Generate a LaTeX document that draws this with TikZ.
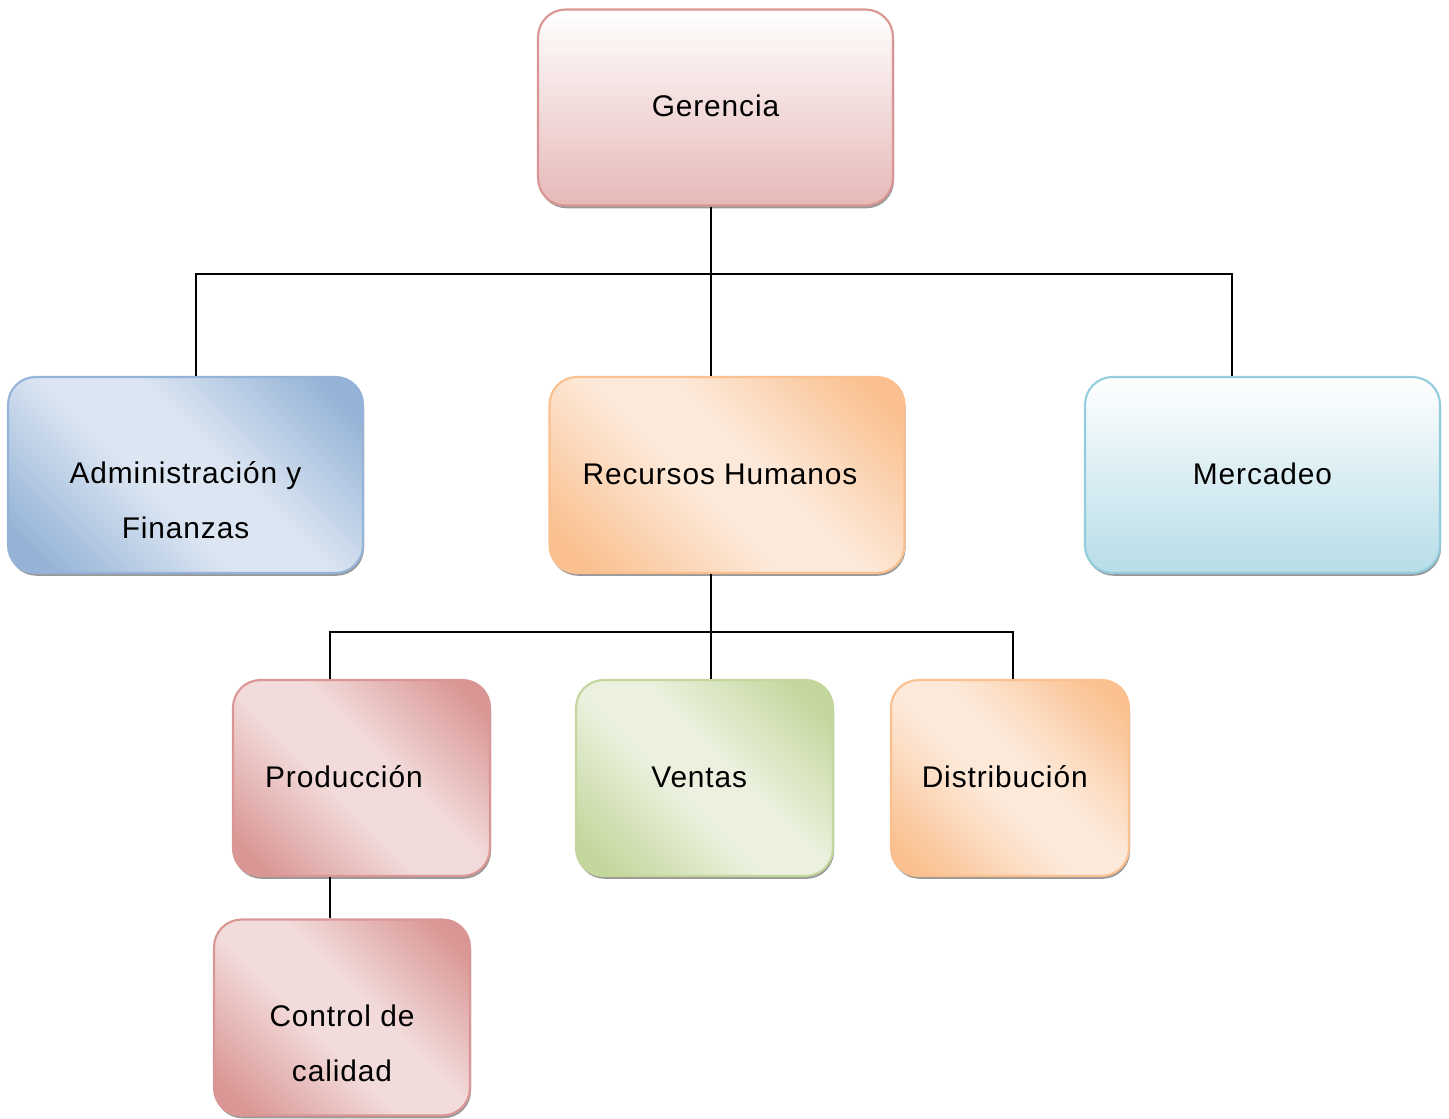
\documentclass[tikz,border=0pt]{standalone}
\usepackage{fontspec}
\setmainfont{Liberation Sans}[LetterSpace=3]
\usepackage{tikz}
\usetikzlibrary{shadows}
\definecolor{rosa}{HTML}{D99694}
\definecolor{rosaclaro}{HTML}{F2DCDB}
\definecolor{rosafondo}{HTML}{E6B9B8}
\definecolor{azul}{HTML}{95B3D7}
\definecolor{azulclaro}{HTML}{DCE6F2}
\definecolor{naranja}{HTML}{FAC08F}
\definecolor{naranjaclaro}{HTML}{FDE9D9}
\definecolor{celeste}{HTML}{93CDDD}
\definecolor{celestefondo}{HTML}{B7DDE8}
\definecolor{verde}{HTML}{C3D69B}
\definecolor{verdeclaro}{HTML}{EBF1DE}
\colorlet{oscuro}{azul}
\colorlet{claro}{azulclaro}
% dark corners, wide light band in the middle
\pgfdeclarehorizontalshading[oscuro,claro]{esquinas}{100bp}{%
  color(0bp)=(oscuro); color(20bp)=(oscuro); color(44bp)=(claro);
  color(56bp)=(claro); color(80bp)=(oscuro); color(100bp)=(oscuro)}
\tikzset{
  caja/.style={
    rectangle,
    rounded corners=0.55cm,
    very thick,
    inner sep=0pt,
    text height=2.14cm,
    text depth=1.78cm,
    align=center,
    font=\fontsize{17}{31.3}\selectfont,
    drop shadow={shadow xshift=0.6pt, shadow yshift=-1.6pt,
      fill=black, opacity=0.4}},
  doslineas/.style={text height=3.24cm, text depth=0.68cm},
  diagonal/.style 2 args={
    draw=#1,
    /utils/exec={\colorlet{oscuro}{#1}\colorlet{claro}{#2}},
    shading=esquinas, shading angle=45},
  vertical/.style 2 args={
    draw=#1,
    top color=white, bottom color=#2},
  linea/.style={draw, thick},
}
\begin{document}
\begin{tikzpicture}
  [x=0.02cm, y=-0.02cm]
  \useasboundingbox (0,0) rectangle (1449,1118);
  % primer nivel
  \node (ger) [caja, vertical={rosa}{rosafondo}, minimum width=7.1cm]
    at (715.5,107.5) {Gerencia};
  \node (adm) [caja, doslineas, diagonal={azul}{azulclaro}, minimum width=7.1cm]
    at (185.5,475) {Administración y\\Finanzas};
  \node (rh) [caja, diagonal={naranja}{naranjaclaro}, minimum width=7.1cm]
    at (727,475) {Recursos Humanos\hspace*{8pt}};
  \node (mer) [caja, vertical={celeste}{celestefondo}, minimum width=7.1cm]
    at (1262.5,475) {Mercadeo};
  % segundo nivel
  \node (pro) [caja, diagonal={rosa}{rosaclaro}, minimum width=5.14cm]
    at (361.5,778) {Producción\hspace*{20pt}};
  \node (ven) [caja, diagonal={verde}{verdeclaro}, minimum width=5.14cm]
    at (704.5,778) {Ventas\hspace*{6pt}};
  \node (dis) [caja, diagonal={naranja}{naranjaclaro}, minimum width=4.76cm]
    at (1010,778) {Distribución\hspace*{6pt}};
  \node (con) [caja, doslineas, diagonal={rosa}{rosaclaro}, minimum width=5.12cm]
    at (342,1017.5) {Control de\\calidad};
  %% conectores
  \coordinate (g1) at (196,274);
  \coordinate (g2) at (711,274);
  \coordinate (g3) at (1232,274);
  \coordinate (h1) at (330,632);
  \coordinate (h2) at (711,632);
  \coordinate (h3) at (1013,632);
  \draw [linea] (adm.north -| g1) -- (g1) -- (g3) -- (mer.north -| g3);
  \draw [linea] (ger.south -| g2) -- (rh.north -| g2);
  \draw [linea] (pro.north -| h1) -- (h1) -- (h3) -- (dis.north -| h3);
  \draw [linea] (rh.south -| h2) -- (ven.north -| h2);
  \draw [linea] (pro.south -| h1) -- (con.north -| h1);
\end{tikzpicture}
\end{document}
